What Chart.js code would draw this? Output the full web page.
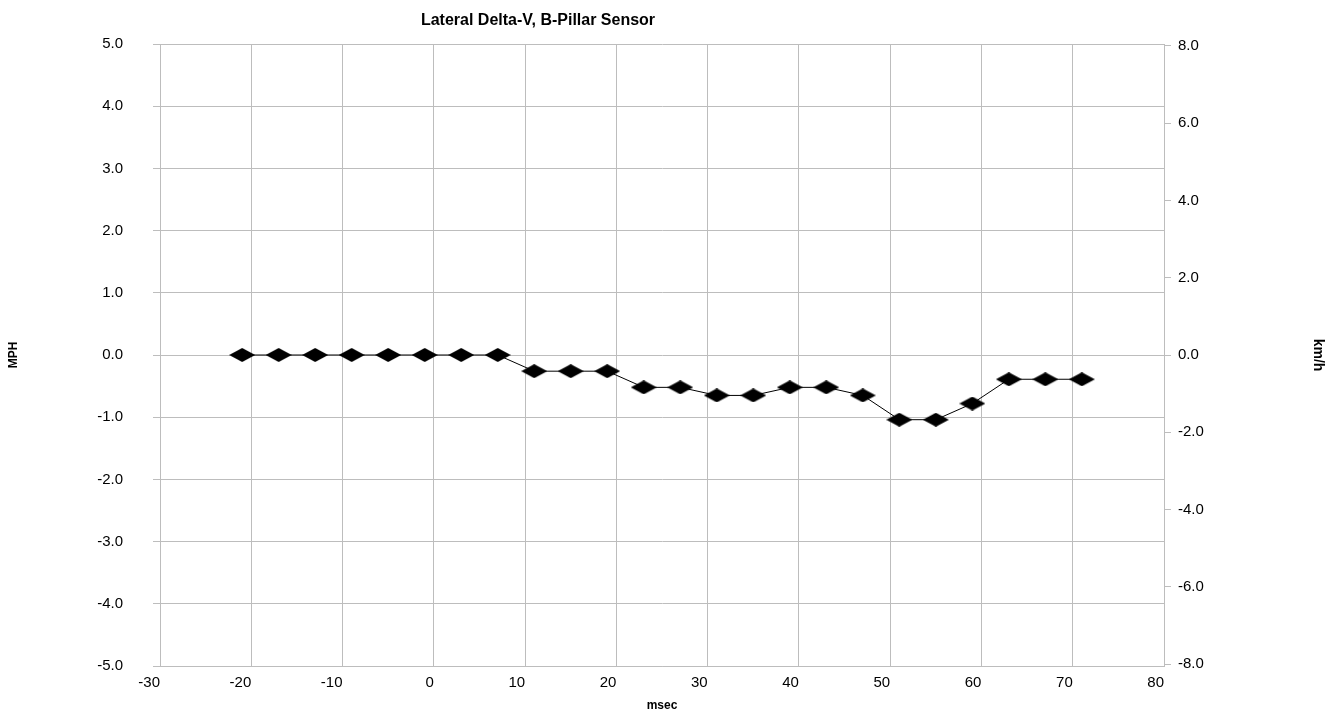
<!DOCTYPE html>
<html>
<head>
<meta charset="utf-8">
<script src="https://cdn.jsdelivr.net/npm/chart.js@4"></script>
<style>
  html, body { margin: 0; padding: 0; background: #fff; }
  #wrap { width: 1343px; height: 719px; }
</style>
</head>
<body>
<div id="wrap"><canvas id="chart"></canvas></div>
<script>
// chart data
const timeMs = [-21, -17, -13, -9, -5, -1, 3, 7, 11, 15, 19, 23, 27, 31, 35, 39, 43, 47, 51, 55, 59, 63, 67, 71];
const deltaVMph = [0, 0, 0, 0, 0, 0, 0, 0, -0.26, -0.26, -0.26, -0.52, -0.52, -0.65, -0.65, -0.52, -0.52, -0.65, -1.04, -1.04, -0.78, -0.39, -0.39, -0.39];
const xTicks = [-30, -20, -10, 0, 10, 20, 30, 40, 50, 60, 70, 80];
const mphTicks = [-5, -4, -3, -2, -1, 0, 1, 2, 3, 4, 5];
const kmhTicks = [-8, -6, -4, -2, 0, 2, 4, 6, 8];
const KMH_PER_MPH = 1.609344;

const gridColor = "#bdbdbd";
const font = "'Liberation Sans', Arial, sans-serif";

// flattened diamond marker
const marker = document.createElement("canvas");
marker.width = 26;
marker.height = 14;
const mctx = marker.getContext("2d");
mctx.fillStyle = "#000";
mctx.beginPath();
mctx.moveTo(0, 7);
mctx.lineTo(13, 0);
mctx.lineTo(26, 7);
mctx.lineTo(13, 14);
mctx.closePath();
mctx.fill();

const titlePlugin = {
    id: "offsetTitle",
    afterDraw(chart) {
        const { ctx, chartArea } = chart;
        ctx.save();
        ctx.font = "bold 16px " + font;
        ctx.fillStyle = "#000";
        ctx.textAlign = "center";
        ctx.textBaseline = "middle";
        const x = chartArea.left + (chartArea.right - chartArea.left) * 0.3765;
        ctx.fillText("Lateral Delta-V, B-Pillar Sensor", x, 21);
        ctx.restore();
    },
};

new Chart(document.getElementById("chart").getContext("2d"), {
    type: "line",
    data: {
        datasets: [
            {
                data: timeMs.map((t, i) => ({ x: t, y: deltaVMph[i] })),
                borderColor: "#000",
                borderWidth: 1,
                pointStyle: marker,
                pointRadius: 7,
                pointHoverRadius: 7,
                tension: 0,
                yAxisID: "y",
            },
        ],
    },
    options: {
        responsive: true,
        maintainAspectRatio: false,
        animation: false,
        layout: { padding: { top: 44, left: 0, right: 0, bottom: 0 } },
        plugins: {
            legend: { display: false },
            tooltip: { enabled: false },
        },
        scales: {
            x: {
                type: "linear",
                min: -30,
                max: 80,
                afterBuildTicks: (s) => { s.ticks = xTicks.map((v) => ({ value: v })); },
                afterFit: (s) => { s.height = 53; },
                grid: { color: gridColor, drawTicks: false },
                border: { color: gridColor },
                ticks: { color: "#000", padding: 8, align: "end", font: { family: font, size: 15 }, maxRotation: 0 },
                title: { display: true, text: "msec", color: "#000", font: { family: font, size: 12, weight: "bold" }, padding: { top: 0, bottom: 6 } },
            },
            y: {
                type: "linear",
                position: "left",
                min: -5,
                max: 5,
                afterBuildTicks: (s) => { s.ticks = mphTicks.map((v) => ({ value: v })); },
                afterFit: (s) => { s.width = 160; },
                grid: { color: gridColor, tickLength: 7 },
                border: { color: gridColor },
                ticks: { color: "#000", padding: 30, font: { family: font, size: 15 }, callback: (v) => v.toFixed(1) },
                title: { display: true, text: "MPH", color: "#000", font: { family: font, size: 12, weight: "bold" }, padding: { top: 6, bottom: 0 } },
            },
            y2: {
                type: "linear",
                position: "right",
                min: -5 * KMH_PER_MPH,
                max: 5 * KMH_PER_MPH,
                afterBuildTicks: (s) => { s.ticks = kmhTicks.map((v) => ({ value: v })); },
                afterFit: (s) => { s.width = 179; },
                grid: { color: gridColor, drawOnChartArea: false, tickLength: 7 },
                border: { color: gridColor },
                ticks: { color: "#000", padding: 7, font: { family: font, size: 15 }, callback: (v) => v.toFixed(1) },
                title: { display: true, text: "km/h", color: "#000", font: { family: font, size: 14, weight: "bold" }, padding: { top: 17, bottom: 0 } },
            },
        },
    },
    plugins: [titlePlugin],
});
</script>
</body>
</html>
